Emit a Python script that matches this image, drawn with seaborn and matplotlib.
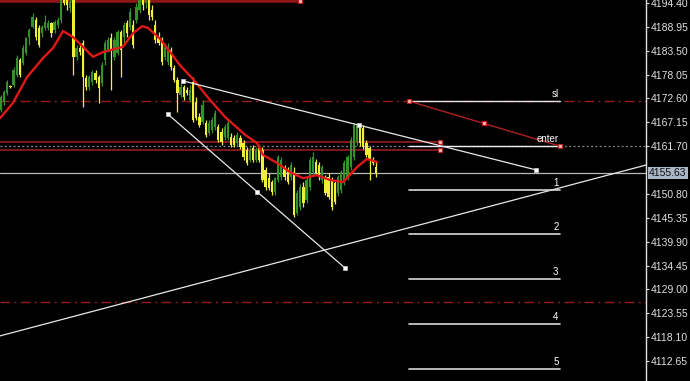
import numpy as np
import pandas as pd
import matplotlib
matplotlib.use("Agg")
import matplotlib.pyplot as plt
import matplotlib.transforms as mtransforms
import seaborn as sns

# ---------------- data (prices) ----------------
opens = [4170.0, 4171.8, 4173.9, 4175.4, 4175.7, 4178.0, 4181.4, 4180.7, 4183.0, 4186.6,
         4188.9, 4190.5, 4188.7, 4187.5, 4188.7, 4188.7, 4189.8, 4188.2, 4189.4, 4190.5,
         4195.5, 4195.3, 4193.3, 4195.3, 4182.1, 4184.1, 4185.3, 4177.3, 4175.2, 4176.4,
         4178.4, 4177.5, 4176.1, 4181.4, 4183.7, 4186.4, 4182.1, 4183.0, 4187.8, 4186.6,
         4189.8, 4188.9, 4189.4, 4190.5, 4192.8, 4195.3, 4194.4, 4195.3, 4192.8, 4189.4,
         4186.4, 4186.0, 4182.1, 4180.9, 4183.7, 4179.6, 4176.8, 4173.4, 4175.2, 4174.5,
         4172.3, 4176.4, 4171.8, 4168.4, 4167.2, 4167.0, 4164.7, 4165.4, 4166.1, 4166.1,
         4165.0, 4163.8, 4163.6, 4163.8, 4163.6, 4162.4, 4163.6, 4162.4, 4160.8, 4158.5,
         4161.3, 4158.5, 4161.3, 4160.8, 4156.3, 4154.4, 4153.5, 4151.3, 4154.0, 4154.7,
         4156.7, 4156.3, 4154.7, 4155.8, 4146.5, 4147.8, 4152.4, 4149.4, 4152.4, 4155.8,
         4158.1, 4157.4, 4154.0, 4154.7, 4154.7, 4154.0, 4153.3, 4151.0, 4151.7, 4153.5,
         4154.7, 4156.9, 4159.2, 4162.7, 4166.1, 4165.9, 4162.4, 4161.3, 4158.5, 4156.9]
highs = [4173.4, 4174.5, 4176.8, 4175.7, 4179.8, 4182.5, 4181.8, 4184.8, 4186.6, 4188.7,
         4192.1, 4191.2, 4189.4, 4189.4, 4191.7, 4190.5, 4190.1, 4190.5, 4191.2, 4196.5,
         4196.5, 4196.2, 4195.5, 4196.5, 4184.8, 4185.3, 4186.0, 4178.0, 4178.0, 4179.1,
         4179.1, 4178.0, 4180.9, 4186.0, 4186.6, 4187.5, 4186.6, 4188.2, 4188.2, 4190.1,
         4190.5, 4193.3, 4190.5, 4194.4, 4196.5, 4196.5, 4196.5, 4196.5, 4193.9, 4190.5,
         4187.8, 4186.6, 4185.3, 4185.3, 4184.4, 4180.2, 4177.5, 4176.1, 4175.7, 4175.2,
         4175.7, 4177.5, 4172.9, 4169.3, 4172.3, 4167.7, 4167.7, 4168.4, 4170.0, 4166.8,
         4165.9, 4166.8, 4167.7, 4164.7, 4164.3, 4165.0, 4164.3, 4163.1, 4161.5, 4161.5,
         4162.0, 4161.5, 4162.0, 4161.5, 4156.9, 4155.6, 4154.0, 4154.7, 4159.7, 4159.2,
         4157.4, 4156.9, 4158.1, 4156.9, 4151.7, 4153.0, 4153.5, 4154.7, 4159.2, 4160.4,
         4158.8, 4158.1, 4157.4, 4155.1, 4155.6, 4154.7, 4154.0, 4155.1, 4156.3, 4158.5,
         4159.7, 4163.8, 4167.0, 4167.0, 4166.8, 4166.5, 4163.1, 4161.8, 4159.2, 4158.1]
lows = [4169.5, 4171.1, 4173.4, 4175.0, 4175.2, 4177.5, 4177.5, 4180.2, 4182.5, 4184.8,
        4188.7, 4186.0, 4184.4, 4186.6, 4188.2, 4188.2, 4186.6, 4187.5, 4188.7, 4189.8,
        4193.9, 4192.8, 4192.3, 4178.0, 4181.4, 4182.5, 4170.7, 4174.5, 4174.5, 4175.7,
        4176.1, 4171.6, 4175.4, 4180.2, 4183.2, 4174.5, 4181.4, 4182.5, 4177.5, 4185.3,
        4186.6, 4188.2, 4184.1, 4189.8, 4192.1, 4192.8, 4193.3, 4190.5, 4190.5, 4185.3,
        4184.8, 4180.2, 4181.4, 4180.2, 4179.1, 4176.4, 4169.5, 4172.9, 4172.3, 4173.4,
        4171.8, 4167.2, 4167.7, 4166.1, 4166.8, 4163.8, 4164.3, 4164.7, 4165.4, 4162.7,
        4162.0, 4163.1, 4163.1, 4161.5, 4161.5, 4161.8, 4161.0, 4158.5, 4157.4, 4158.1,
        4158.1, 4158.1, 4158.1, 4153.5, 4151.7, 4151.7, 4150.6, 4150.6, 4153.5, 4154.0,
        4154.0, 4153.0, 4154.0, 4145.5, 4145.9, 4147.1, 4147.8, 4148.7, 4151.7, 4155.1,
        4155.1, 4154.0, 4153.3, 4150.6, 4149.6, 4147.1, 4148.5, 4150.3, 4151.0, 4152.8,
        4154.0, 4156.3, 4158.5, 4162.0, 4161.8, 4161.0, 4159.2, 4154.0, 4157.4, 4154.7]
closes = [4172.9, 4174.1, 4176.4, 4175.2, 4179.1, 4181.8, 4178.0, 4184.1, 4186.4, 4188.2,
          4191.2, 4186.6, 4184.8, 4188.9, 4190.1, 4189.8, 4187.5, 4190.1, 4190.5, 4195.5,
          4194.4, 4193.9, 4194.6, 4182.1, 4184.1, 4183.2, 4177.5, 4175.2, 4177.5, 4178.6,
          4176.8, 4175.0, 4180.2, 4185.3, 4186.0, 4183.7, 4186.0, 4187.8, 4183.7, 4189.4,
          4187.5, 4192.3, 4184.8, 4193.5, 4195.3, 4193.9, 4195.3, 4191.7, 4191.2, 4186.0,
          4185.3, 4180.9, 4184.4, 4184.4, 4179.8, 4176.8, 4173.9, 4175.2, 4172.9, 4173.9,
          4174.5, 4167.7, 4168.1, 4166.5, 4171.1, 4164.3, 4167.0, 4167.7, 4169.3, 4163.1,
          4162.7, 4166.1, 4167.0, 4162.0, 4162.0, 4164.3, 4161.5, 4159.2, 4157.9, 4160.8,
          4158.5, 4160.8, 4158.5, 4154.0, 4152.4, 4152.2, 4151.3, 4154.4, 4159.2, 4158.5,
          4154.7, 4153.5, 4157.4, 4146.1, 4151.0, 4152.4, 4148.7, 4154.0, 4158.5, 4159.2,
          4155.6, 4154.7, 4156.9, 4151.0, 4150.1, 4147.8, 4149.0, 4154.7, 4155.8, 4157.9,
          4159.2, 4163.1, 4166.5, 4166.5, 4162.4, 4161.5, 4159.7, 4158.5, 4157.9, 4155.63]

ma_bars = [-0.32, 3.8, 8.3, 13.3, 16.5, 19.7, 22.9, 26.0, 29.2, 32.4, 38.7, 41.9, 44.8,
           46.7, 50.5, 53.7, 56.8, 61.0, 66.3, 71.1, 77.5, 81.3, 83.2, 87.6, 91.7, 95.9,
           100.3, 104.4, 108.6, 113.0, 116.2, 119.4]
ma_prices = [4168.1, 4171.6, 4177.5, 4181.8, 4184.1, 4188.0, 4186.6, 4184.4, 4182.1, 4183.2,
             4184.4, 4187.5, 4189.1, 4188.7, 4186.2, 4183.2, 4180.2, 4177.0, 4172.3, 4168.4,
             4164.3, 4162.4, 4159.7, 4157.9, 4155.8, 4154.4, 4155.1, 4154.0, 4153.5, 4156.9,
             4158.8, 4158.1]

upper_trend_bars = [57.8, 113.7, 169.8]
upper_trend_prices = [4176.6, 4166.5, 4156.3]
lower_trend_bars = [53.0, 81.3, 109.2]
lower_trend_prices = [4169.0, 4151.3, 4133.9]
support_bars = [-0.32, 204.76]
support_prices = [4118.4, 4157.4]

top_line_price = 4194.75
top_line_end = 94.9
zone_prices = [4162.7, 4160.9]
zone_end = 139.4
dashdot_prices = [4172.0, 4126.1]
dotted_price = 4161.70
last_price = 4155.63

plan_start, plan_end = 129.5, 177.3
sl_price = 4172.0
enter_price = 4161.7
risk_bars = [129.5, 153.3, 177.5]
risk_prices = [4172.0, 4166.9, 4161.7]
target_labels = ["1", "2", "3", "4", "5"]
target_prices = [4151.7, 4141.6, 4131.3, 4121.1, 4110.8]

tick_values = [4194.40, 4188.95, 4183.50, 4178.05, 4172.60, 4167.15, 4161.70,
               4150.80, 4145.35, 4139.90, 4134.45, 4129.00, 4123.55, 4118.10, 4112.65]
tick_labels = ["4194.40", "4188.95", "4183.50", "4178.05", "4172.60", "4167.15", "4161.70",
               "4150.80", "4145.35", "4139.90", "4134.45", "4129.00", "4123.55", "4118.10",
               "4112.65"]

# ---------------- style ----------------
sns.set_theme(style="dark")
plt.rcParams["font.family"] = ["Liberation Sans", "DejaVu Sans"]

df = pd.DataFrame({"open": opens, "high": highs, "low": lows, "close": closes})
df["bar"] = np.arange(len(df))
df["bull"] = df["close"] >= df["open"]

GREEN = "#35922a"
YELLOW = "#f0f03a"
DKRED = "#8e1616"
RED = "#a82020"

fig = plt.figure(figsize=(6.9, 3.81), dpi=100, facecolor="black")
ax = fig.add_axes([0, 0, 646 / 690, 1])
ax.set_facecolor("black")

# horizontal objects
ax.plot([-1, top_line_end], [top_line_price] * 2, color=DKRED, lw=2.6, solid_capstyle="butt", zorder=2)
for p in dashdot_prices:
    ax.axhline(p, color="#9a1a1a", lw=1.0, ls=(0, (7, 3, 1.5, 3)), zorder=1)
ax.axhline(dotted_price, color="#8a8a8a", lw=0.9, ls=(0, (1.5, 2)), zorder=1)
for p in zone_prices:
    ax.plot([-1, zone_end], [p, p], color=RED, lw=1.1, zorder=2)
ax.axhline(last_price, color="#b8b8b8", lw=0.9, zorder=1)
ax.plot(support_bars, support_prices, color="#e8e8e8", lw=0.9, zorder=3)

# candles
colors = np.where(df["bull"], GREEN, YELLOW)
ax.vlines(df["bar"], df["low"], df["high"], colors=colors, lw=0.9, zorder=4)
body_low = np.minimum(df["open"], df["close"])
body_h = np.maximum(np.abs(df["close"] - df["open"]), 0.25)
ax.bar(df["bar"], body_h, bottom=body_low, width=0.72, color=colors, linewidth=0, zorder=5)

# moving average
sns.lineplot(x=ma_bars, y=ma_prices, ax=ax, color="#e01818", lw=1.7, zorder=6, sort=False)

# trend lines
ax.plot(upper_trend_bars, upper_trend_prices, color="#e8e8e8", lw=0.9, zorder=7)
ax.plot(lower_trend_bars, lower_trend_prices, color="#e8e8e8", lw=0.9, zorder=7)
ax.plot(upper_trend_bars, upper_trend_prices, "s", ms=3.0, mfc="white", mec="#cccccc", mew=0.5, zorder=8)
ax.plot(lower_trend_bars, lower_trend_prices, "s", ms=3.0, mfc="white", mec="#cccccc", mew=0.5, zorder=8)

# plan lines
ax.plot([plan_start, plan_end], [sl_price] * 2, color="#e6e6e6", lw=1.0, zorder=7)
ax.plot([plan_start, plan_end], [enter_price] * 2, color="#f0f0f0", lw=1.0, zorder=7)
for lab, p in zip(target_labels, target_prices):
    ax.plot([plan_start, plan_end], [p, p], color="#d8d8d8", lw=1.2, zorder=7)
    ax.text(plan_end - 0.3, p + 0.55, lab, color="white", fontsize=7, ha="right", va="bottom", zorder=9)
ax.text(plan_end - 0.3, sl_price + 0.55, "sl", color="white", fontsize=7, ha="right", va="bottom", zorder=9)
ax.text(plan_end - 0.3, enter_price + 0.55, "enter", color="white", fontsize=7, ha="right", va="bottom", zorder=9)
ax.plot(risk_bars, risk_prices, color="#b02020", lw=1.0, zorder=8)
ax.plot(risk_bars, risk_prices, "s", ms=3.0, mfc="#ffb0b0", mec="#c02020", mew=0.8, zorder=9)
ax.plot([zone_end] * 2, zone_prices, "s", ls="none", ms=3.0, mfc="#ffb0b0", mec="#c02020", mew=0.8, zorder=9)
ax.plot([top_line_end], [top_line_price], "s", ms=3.0, mfc="#ffb0b0", mec="#c02020", mew=0.8, zorder=9)

# axes
ax.set_xlim(-0.32, 204.76)
ax.set_ylim(4108.1, 4195.08)
ax.set_xticks([])
ax.yaxis.tick_right()
ax.set_yticks(tick_values)
ax.set_yticklabels(tick_labels)
ax.tick_params(axis="y", colors="#e0e0e0", labelcolor="#e0e0e0", labelsize=7.5,
               length=2.5, width=0.8, pad=1, direction="out", right=True, left=False)
ax.grid(False)
for s in ["left", "top", "bottom"]:
    ax.spines[s].set_visible(False)
ax.spines["right"].set_color("#e0e0e0")
ax.spines["right"].set_linewidth(1.0)

trans = mtransforms.blended_transform_factory(ax.transAxes, ax.transData)
ax.text(1.0045, last_price, "4155.63", transform=trans, ha="left", va="center",
        fontsize=7.5, color="#101010", clip_on=False, zorder=10,
        bbox=dict(boxstyle="square,pad=0.12", facecolor="#aab5c6", edgecolor="none"))

fig.savefig("out.png", dpi=100, facecolor="black")
